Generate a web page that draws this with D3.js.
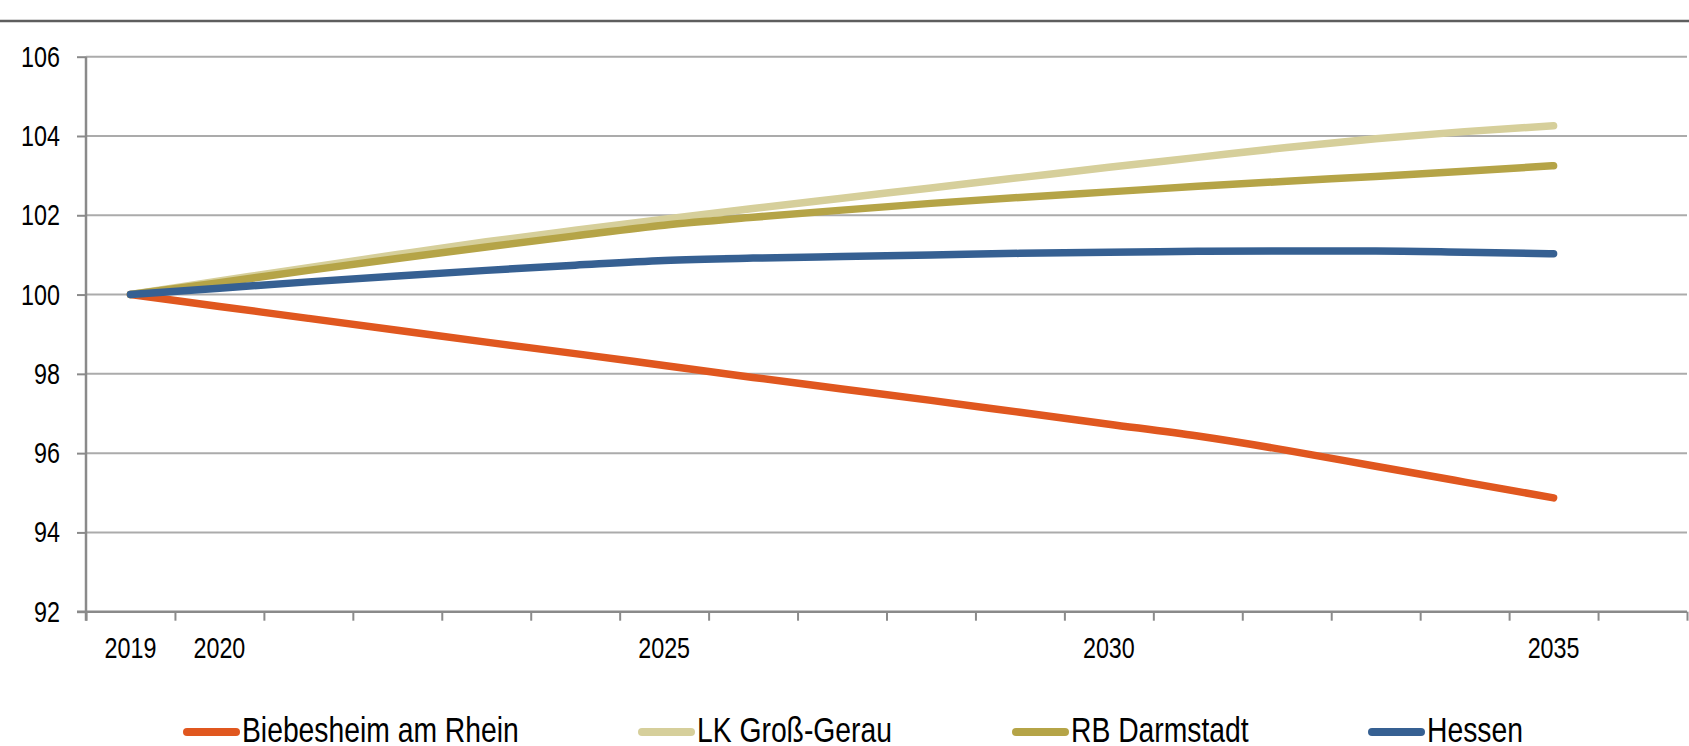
<!DOCTYPE html>
<html>
<head>
<meta charset="utf-8">
<script src="https://cdn.jsdelivr.net/npm/d3@7"></script>
<style>
  html, body { margin: 0; padding: 0; background: #fff; }
  svg { display: block; }
  text { font-family: "Liberation Sans", Arial, sans-serif; fill: #000; }
</style>
</head>
<body>
<svg id="chart" width="1689" height="746"></svg>
<script>
const years = [2019, 2020, 2021, 2022, 2023, 2024, 2025, 2026, 2027, 2028, 2029, 2030, 2031, 2032, 2033, 2034, 2035];
const xTickLabels = [2019, 2020, 2025, 2030, 2035];
const yTicks = [92, 94, 96, 98, 100, 102, 104, 106];

const seriesNames = ["Biebesheim am Rhein", "LK Groß-Gerau", "RB Darmstadt", "Hessen"];
const seriesColors = ["#e0571f", "#d6cf9b", "#b5a447", "#366092"];

const biebesheim = [100.00, 99.70, 99.40, 99.10, 98.80, 98.51, 98.21, 97.91, 97.62, 97.33, 97.03, 96.73, 96.43, 96.07, 95.67, 95.27, 94.87];
const lkGrossGerau = [100.00, 100.34, 100.68, 101.01, 101.33, 101.62, 101.90, 102.17, 102.43, 102.69, 102.95, 103.21, 103.46, 103.71, 103.93, 104.11, 104.26];
const rbDarmstadt = [100.00, 100.30, 100.61, 100.91, 101.20, 101.48, 101.75, 101.95, 102.13, 102.30, 102.45, 102.59, 102.73, 102.86, 102.98, 103.11, 103.25];
const hessen = [100.00, 100.16, 100.32, 100.47, 100.61, 100.74, 100.86, 100.92, 100.96, 101.00, 101.04, 101.07, 101.09, 101.10, 101.10, 101.07, 101.03];

const seriesValues = [biebesheim, lkGrossGerau, rbDarmstadt, hessen];

const svg = d3.select("#chart");

// condense text horizontally (narrow sans look)
function condense(sel, k) {
  sel.each(function () {
    const w = this.getComputedTextLength();
    d3.select(this).attr("textLength", w * k).attr("lengthAdjust", "spacingAndGlyphs");
  });
}

// top rule (remainder of cut-off header)
svg.append("line")
  .attr("x1", 0).attr("x2", 1689).attr("y1", 21).attr("y2", 21)
  .attr("stroke", "#5e5e5e").attr("stroke-width", 2.5);

const x = d3.scaleLinear().domain([2018.5, 2036.5]).range([86, 1687]);
const y = d3.scaleLinear().domain([92, 106]).range([611.7, 56.7]);

// gridlines
svg.append("g")
  .selectAll("line")
  .data(yTicks.filter(d => d > 92))
  .join("line")
  .attr("x1", x(2018.5)).attr("x2", x(2036.5))
  .attr("y1", d => y(d)).attr("y2", d => y(d))
  .attr("stroke", "#ababab").attr("stroke-width", 2);

// y axis
const yAxis = d3.axisLeft(y).tickValues(yTicks).tickSize(9).tickPadding(17).tickFormat(d3.format("d"));
const gy = svg.append("g").attr("transform", `translate(${x(2018.5)},0)`).call(yAxis);
gy.select(".domain").remove();
gy.selectAll(".tick line").attr("stroke", "#8a8a8a").attr("stroke-width", 2);
gy.selectAll(".tick text").attr("font-size", 29.5).attr("font-family", null).call(condense, 0.79);
gy.append("line").attr("x1", 0).attr("x2", 0).attr("y1", y(106)).attr("y2", y(92) + 9)
  .attr("stroke", "#8a8a8a").attr("stroke-width", 2.5);

// x axis
const xTicks = d3.range(2018.5, 2037, 1);
const xAxis = d3.axisBottom(x).tickValues(xTicks).tickSize(9).tickFormat("");
const gx = svg.append("g").attr("transform", `translate(0,${y(92)})`).call(xAxis);
gx.select(".domain").remove();
gx.selectAll(".tick line").attr("stroke", "#8a8a8a").attr("stroke-width", 2);
gx.append("line").attr("x1", x(2018.5) - 9).attr("x2", x(2036.5)).attr("y1", 0).attr("y2", 0)
  .attr("stroke", "#8a8a8a").attr("stroke-width", 2.5);
gx.selectAll(".yearlabel")
  .data(xTickLabels)
  .join("text")
  .attr("class", "yearlabel")
  .attr("x", d => x(d))
  .attr("y", 46)
  .attr("text-anchor", "middle")
  .attr("font-size", 29.5)
  .text(d => d)
  .call(condense, 0.79);

// lines
const line = d3.line().x((d, i) => x(years[i])).y(d => y(d)).curve(d3.curveMonotoneX);
svg.append("g")
  .selectAll("path")
  .data(seriesValues)
  .join("path")
  .attr("d", d => line(d))
  .attr("fill", "none")
  .attr("stroke", (d, i) => seriesColors[i])
  .attr("stroke-width", 7.5)
  .attr("stroke-linecap", "round")
  .attr("stroke-linejoin", "round");

// legend
const legendX = [183, 638, 1012, 1368];
const lg = svg.append("g");
seriesNames.forEach((name, i) => {
  lg.append("line")
    .attr("x1", legendX[i] + 4).attr("x2", legendX[i] + 53)
    .attr("y1", 732).attr("y2", 732)
    .attr("stroke", seriesColors[i]).attr("stroke-width", 8).attr("stroke-linecap", "round");
  lg.append("text")
    .attr("x", legendX[i] + 59).attr("y", 742)
    .attr("font-size", 34.5)
    .text(name)
    .call(condense, 0.82);
});
</script>
</body>
</html>
